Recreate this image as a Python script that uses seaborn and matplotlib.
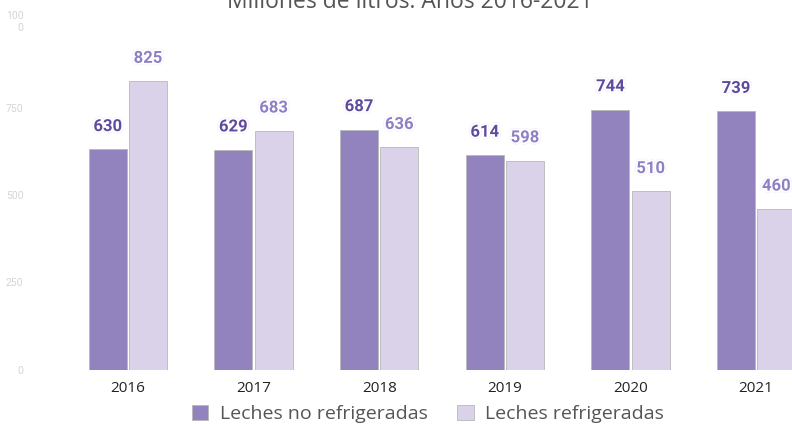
import pandas as pd
import matplotlib.pyplot as plt
import matplotlib.patheffects as pe
import seaborn as sns

# data
years = ["2016", "2017", "2018", "2019", "2020", "2021"]
no_refrig = [630, 629, 687, 614, 744, 739]
refrig = [825, 683, 636, 598, 510, 460]
series_names = ["Leches no refrigeradas", "Leches refrigeradas"]
y_ticks = [0, 250, 500, 750, 1000]
y_tick_labels = ["0", "250", "500", "750", "100\n0"]

colors = ["#9283be", "#d9d2e9"]
label_colors = ["#5f4b9e", "#8f80c6"]

df = pd.DataFrame({
    "year": years * 2,
    "value": no_refrig + refrig,
    "serie": [series_names[0]] * len(years) + [series_names[1]] * len(years),
})

sns.set_style("white")
plt.rcParams["font.family"] = ["Open Sans", "DejaVu Sans"]

fig = plt.figure(figsize=(7.92, 4.24), dpi=100)
ax = fig.add_axes([65 / 792, (424 - 370) / 424, 754 / 792, 350 / 424])

sns.barplot(data=df, x="year", y="value", hue="serie", palette=colors,
            width=0.64, gap=0.05, edgecolor="#b8b8b8", linewidth=0.6,
            saturation=1, ax=ax, legend=True)

ax.set_ylim(0, 1000)
ax.set_yticks(y_ticks)
ax.set_yticklabels(y_tick_labels, fontsize=7.5, color="#d4d4d4", family="Roboto")
ax.tick_params(axis="y", length=0, pad=30)
ax.tick_params(axis="x", length=0, pad=8, labelsize=11, labelcolor="#222222")
ax.set_xlabel("")
ax.set_ylabel("")
sns.despine(ax=ax, left=True, bottom=True)

# value labels
for i, cont in enumerate(ax.containers):
    for bar, val in zip(cont, [no_refrig, refrig][i]):
        ax.annotate(str(val), (bar.get_x() + bar.get_width() / 2, bar.get_height()),
                    xytext=(0, 16.5), textcoords="offset points",
                    ha="center", va="center", fontsize=12, fontweight="bold",
                    family="Roboto", color=label_colors[i],
                    path_effects=[pe.withStroke(linewidth=3.5, foreground="#f4f2f8"),
                                  pe.withStroke(linewidth=2.5, foreground="white")])

# legend
handles, labels = ax.get_legend_handles_labels()
ax.legend_.remove()
fig.legend(handles, labels, loc="center", bbox_to_anchor=(428 / 792, 1 - 414 / 424),
           ncol=2, frameon=False, fontsize=14, labelcolor="#555555",
           handlelength=0.85, handleheight=0.85, handletextpad=0.6, columnspacing=1.5)

fig.text(410 / 792, 0.995, "Millones de litros. Años 2016-2021", ha="center", va="center",
         fontsize=16.5, color="#555555")

fig.savefig("out.png", dpi=100)
